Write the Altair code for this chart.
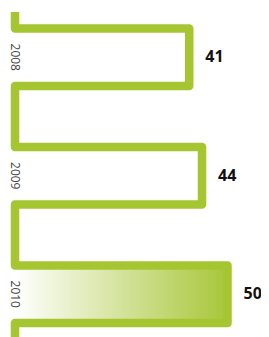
import altair as alt
import pandas as pd

years = ["2008", "2009", "2010"]
values = [41, 44, 50]
highlighted = ["2010"]

GREEN = "#a6c631"
HALF = 0.2426  # half bar thickness, in band units

# snake path built from the values
rows = [dict(x=0, y=-0.382)]
for i, v in enumerate(values):
    top, bot = i - HALF, i + HALF
    rows += [dict(x=0, y=top), dict(x=v, y=top), dict(x=v, y=bot), dict(x=0, y=bot)]
rows.append(dict(x=0, y=2.8))
path = pd.DataFrame(rows)
path["o"] = range(len(path))

bars = pd.DataFrame({
    "year": years,
    "value": values,
    "y": [i - HALF for i in range(len(years))],
    "y2": [i + HALF for i in range(len(years))],
    "yc": list(range(len(years))),
    "zero": [0] * len(years),
})

xs = alt.Scale(domain=[-1.647, 57.88], nice=False, zero=False)
ys = alt.Scale(domain=[-0.4156, 2.3608], nice=False, zero=False, reverse=True)

grad = alt.Chart(bars).transform_filter(
    alt.FieldOneOfPredicate(field="year", oneOf=highlighted)
).mark_rect(
    color=alt.Gradient(
        gradient="linear",
        stops=[alt.GradientStop(color="#ffffff", offset=0),
               alt.GradientStop(color="#a8c63a", offset=1)],
        x1=0, x2=1, y1=0, y2=0,
    ),
    clip=True,
).encode(
    x=alt.X("zero:Q", scale=xs, axis=None),
    x2="value:Q",
    y=alt.Y("y:Q", scale=ys, axis=None),
    y2="y2:Q",
)

line = alt.Chart(path).mark_line(
    color=GREEN, strokeWidth=8.5, strokeJoin="round", strokeCap="butt", clip=True
).encode(
    x=alt.X("x:Q", scale=xs, axis=None),
    y=alt.Y("y:Q", scale=ys, axis=None),
    order="o:Q",
)

vals = alt.Chart(bars).mark_text(
    align="left", baseline="middle", dx=16, fontSize=16, fontWeight="bold",
    font="Open Sans", color="#111111",
).encode(
    x=alt.X("value:Q", scale=xs, axis=None),
    y=alt.Y("yc:Q", scale=ys, axis=None),
    text="value:Q",
)

yrs = alt.Chart(bars).mark_text(
    align="center", baseline="middle", angle=90, fontSize=12,
    font="Open Sans", color="#444444",
).encode(
    x=alt.X("zero:Q", scale=xs, axis=None),
    y=alt.Y("yc:Q", scale=ys, axis=None),
    text="year:N",
)

chart = alt.layer(grad, line, vals, yrs).properties(
    width=253, height=329, padding=0, autosize=alt.AutoSizeParams(type="none"),
    background="white",
).configure_view(stroke=None)

chart.save("out.html", embed_options={"renderer": "svg", "actions": False})
